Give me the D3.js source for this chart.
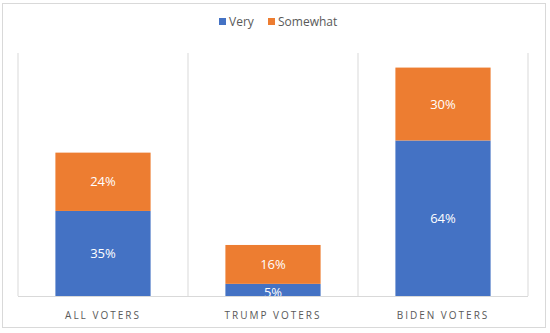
<!DOCTYPE html>
<html>
<head>
<meta charset="utf-8">
<script src="https://cdn.jsdelivr.net/npm/d3@7"></script>
<style>
  body { margin: 0; background: #fff; }
  text { font-family: "Open Sans", "Liberation Sans", sans-serif; }
</style>
</head>
<body>
<svg id="chart" width="550" height="333"></svg>
<script>
const categories = ["ALL VOTERS", "TRUMP VOTERS", "BIDEN VOTERS"];
const seriesNames = ["Very", "Somewhat"];
const very = [35, 5, 64];
const somewhat = [24, 16, 30];
const colors = ["#4472C4", "#ED7D31"];

const svg = d3.select("#chart");
const W = 550, H = 333;
const margin = { top: 53, right: 22, bottom: 37, left: 18 };
const iw = W - margin.left - margin.right;
const ih = H - margin.top - margin.bottom;

// chart border
svg.append("rect")
  .attr("x", 2.5).attr("y", 3.5)
  .attr("width", 543).attr("height", 324)
  .attr("fill", "#fff")
  .attr("stroke", "#d9d9d9");

const g = svg.append("g").attr("transform", `translate(${margin.left},${margin.top})`);

const x = d3.scaleBand().domain(categories).range([0, iw]).paddingInner(0.44).paddingOuter(0.22);
const y = d3.scaleLinear().domain([0, 100]).range([ih, 0]);

// vertical gridlines between categories
const step = iw / categories.length;
const grid = d3.range(categories.length + 1).map(i => i * step);
g.selectAll("line.grid")
  .data(grid)
  .enter().append("line")
  .attr("class", "grid")
  .attr("x1", d => d).attr("x2", d => d)
  .attr("y1", 0).attr("y2", ih)
  .attr("stroke", "#d9d9d9");

g.append("clipPath").attr("id", "plot")
  .append("rect").attr("width", iw).attr("height", ih);

const rows = categories.map((c, i) => ({ cat: c, Very: very[i], Somewhat: somewhat[i] }));
const stacked = d3.stack().keys(seriesNames)(rows);

const layers = g.selectAll("g.layer")
  .data(stacked)
  .enter().append("g")
  .attr("clip-path", "url(#plot)")
  .attr("fill", (d, i) => colors[i]);

layers.selectAll("rect")
  .data(d => d)
  .enter().append("rect")
  .attr("x", d => x(d.data.cat))
  .attr("width", x.bandwidth())
  .attr("y", d => y(d[1]))
  .attr("height", d => y(d[0]) - y(d[1]));

layers.selectAll("text")
  .data(d => d)
  .enter().append("text")
  .attr("x", d => x(d.data.cat) + x.bandwidth() / 2)
  .attr("y", d => (y(d[0]) + y(d[1])) / 2)
  .attr("dy", d => (y(d[0]) - y(d[1])) < 16 ? "0.55em" : "0.35em")
  .attr("text-anchor", "middle")
  .attr("fill", "#fff")
  .style("font-size", "13px")
  .text(d => (d[1] - d[0]) + "%");

g.append("line")
  .attr("x1", 0).attr("x2", iw)
  .attr("y1", ih + 0.5).attr("y2", ih + 0.5)
  .attr("stroke", "#d9d9d9");

// category axis labels
g.selectAll("text.cat")
  .data(categories)
  .enter().append("text")
  .attr("class", "cat")
  .attr("x", d => x(d) + x.bandwidth() / 2)
  .attr("y", ih + 19)
  .attr("dy", "0.35em")
  .attr("text-anchor", "middle")
  .attr("fill", "#595959")
  .style("font-size", "10px")
  .style("letter-spacing", "2px")
  .text(d => d);

// legend
const legend = svg.append("g").attr("transform", "translate(219,16)");
const items = legend.selectAll("g")
  .data(seriesNames)
  .enter().append("g")
  .attr("transform", (d, i) => `translate(${i * 49},0)`);
items.append("rect")
  .attr("width", 7).attr("height", 7)
  .attr("y", 2)
  .attr("fill", (d, i) => colors[i]);
items.append("text")
  .attr("x", 10).attr("y", 6)
  .attr("dy", "0.35em")
  .attr("fill", "#595959")
  .style("font-size", "12px")
  .text(d => d);
</script>
</body>
</html>
